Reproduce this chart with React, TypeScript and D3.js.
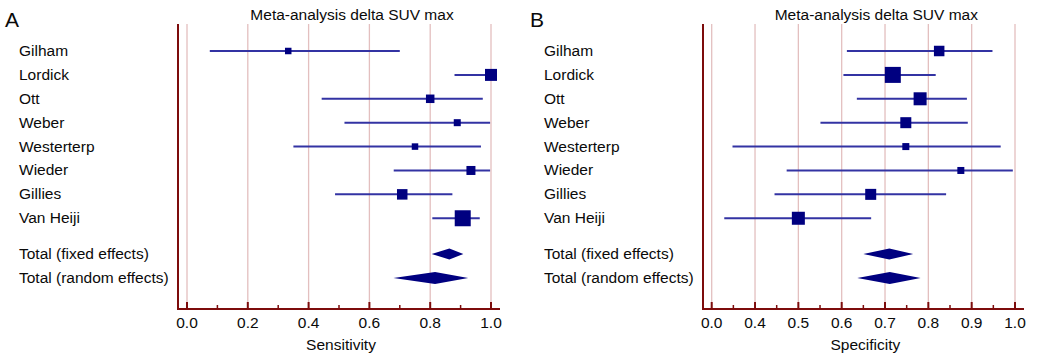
import { useEffect } from 'react';
import * as d3 from 'd3';

// studies (same order in both panels)
const studies = ['Gilham', 'Lordick', 'Ott', 'Weber', 'Westerterp', 'Wieder', 'Gillies', 'Van Heiji'];
const totals = ['Total (fixed effects)', 'Total (random effects)'];

// A: sensitivity
const sensEst = [0.333, 1.0, 0.8, 0.889, 0.75, 0.934, 0.708, 0.907];
const sensLo = [0.075, 0.88, 0.443, 0.518, 0.35, 0.68, 0.487, 0.807];
const sensHi = [0.7, 1.0, 0.973, 0.997, 0.967, 0.997, 0.873, 0.963];
const sensWeight = [6.5, 12, 8.5, 7, 6.5, 9, 10.5, 16];
const sensTotEst = [0.863, 0.816];
const sensTotLo = [0.805, 0.679];
const sensTotHi = [0.909, 0.925];

// B: specificity
const specEst = [0.825, 0.718, 0.781, 0.748, 0.748, 0.875, 0.667, 0.5];
const specLo = [0.612, 0.604, 0.635, 0.551, 0.348, 0.473, 0.445, 0.329];
const specHi = [0.948, 0.817, 0.889, 0.891, 0.967, 0.995, 0.841, 0.668];
const specWeight = [10.5, 16, 13, 11, 7, 7, 11, 13];
const specTotEst = [0.71, 0.711];
const specTotLo = [0.65, 0.636];
const specTotHi = [0.765, 0.782];

// tick labels
const sensTicks = [0, 0.2, 0.4, 0.6, 0.8, 1.0];
const sensTickLabels = ['0.0', '0.2', '0.4', '0.6', '0.8', '1.0'];
const sensMinor = [0.1, 0.3, 0.5, 0.7, 0.9];
const specTicks = [0.3, 0.4, 0.5, 0.6, 0.7, 0.8, 0.9, 1.0];
const specTickLabels = ['0.0', '0.4', '0.5', '0.6', '0.7', '0.8', '0.9', '1.0'];
const specMinor = [0.35, 0.45, 0.55, 0.65, 0.75, 0.85, 0.95];

const AXIS = '#7d0c0c';
const GRID = '#e3bfbf';
const CI = '#3333a3';
const MARK = '#000080';
const TEXT = '#0a0a0a';
const FONT = 'Liberation Sans, Arial, Helvetica, sans-serif';

const rowY = d3.scaleLinear().domain([0, 9.5]).range([51, 278]);

type PanelProps = {
    x0: number;
    letter: string;
    xLabel: string;
    domain: [number, number];
    range: [number, number];
    ticks: number[];
    tickLabels: string[];
    minor: number[];
    est: number[];
    lo: number[];
    hi: number[];
    weight: number[];
    totEst: number[];
    totLo: number[];
    totHi: number[];
};

const Panel = (p: PanelProps) => {
    const x = d3.scaleLinear().domain(p.domain).range(p.range);
    const axisX = p.x0 + 173;
    const top = 24;
    const bottom = 309;
    const axisEnd = p.range[1] + 9;
    const mid = (p.range[0] + p.range[1]) / 2;
    return (
        <g fontFamily={FONT}>
            <text x={p.x0} y={27} fontSize={21} fill={TEXT}>{p.letter}</text>
            <text x={mid + 13} y={20} fontSize={15.5} textAnchor="middle" fill={TEXT}>
                Meta-analysis delta SUV max
            </text>
            {p.ticks.map((t) => (
                <line key={'g' + t} x1={x(t)} x2={x(t)} y1={top} y2={bottom} stroke={GRID} strokeWidth={1.3} />
            ))}
            {studies.map((s, i) => (
                <text key={s} x={p.x0 + 14} y={rowY(i) + 5} fontSize={15.5} fill={TEXT}>{s}</text>
            ))}
            {totals.map((s, i) => (
                <text key={s} x={p.x0 + 14} y={rowY(8.5 + i) + 5} fontSize={15.5} fill={TEXT}>{s}</text>
            ))}
            {studies.map((s, i) => (
                <g key={'m' + s}>
                    <line x1={x(p.lo[i])} x2={x(p.hi[i])} y1={rowY(i)} y2={rowY(i)} stroke={CI} strokeWidth={2} />
                    <rect
                        x={x(p.est[i]) - p.weight[i] / 2}
                        y={rowY(i) - p.weight[i] / 2}
                        width={p.weight[i]}
                        height={p.weight[i]}
                        fill={MARK}
                    />
                </g>
            ))}
            {totals.map((s, i) => {
                const y = rowY(8.5 + i);
                const h = 5.5 + i * 0.5;
                const d = `M${x(p.totLo[i])},${y} L${x(p.totEst[i])},${y - h} L${x(p.totHi[i])},${y} L${x(p.totEst[i])},${y + h} Z`;
                return <path key={'d' + s} d={d} fill={MARK} />;
            })}
            <line x1={axisX} x2={axisX} y1={top} y2={bottom + 1} stroke={AXIS} strokeWidth={2} />
            <line x1={axisX - 1} x2={axisEnd} y1={bottom} y2={bottom} stroke={AXIS} strokeWidth={2} />
            {p.ticks.map((t, i) => (
                <g key={'t' + t}>
                    <line x1={x(t)} x2={x(t)} y1={bottom} y2={bottom - 7} stroke={AXIS} strokeWidth={2} />
                    <text x={x(t)} y={328} fontSize={15.5} textAnchor="middle" fill={TEXT}>{p.tickLabels[i]}</text>
                </g>
            ))}
            {p.minor.map((t) => (
                <line key={'n' + t} x1={x(t)} x2={x(t)} y1={bottom} y2={bottom - 4} stroke={AXIS} strokeWidth={1.5} />
            ))}
            <text x={mid + 2} y={350} fontSize={15.5} textAnchor="middle" fill={TEXT}>{p.xLabel}</text>
        </g>
    );
};

export default function App() {
    useEffect(() => {
        document.body.style.margin = '0';
    }, []);
    return (
        <svg width={1044} height={358} style={{ display: 'block', background: '#fff' }}>
            <Panel
                x0={5} letter="A" xLabel="Sensitivity"
                domain={[0, 1]} range={[187, 491]}
                ticks={sensTicks} tickLabels={sensTickLabels} minor={sensMinor}
                est={sensEst} lo={sensLo} hi={sensHi} weight={sensWeight}
                totEst={sensTotEst} totLo={sensTotLo} totHi={sensTotHi}
            />
            <Panel
                x0={530} letter="B" xLabel="Specificity"
                domain={[0.3, 1.0]} range={[711.7, 1015]}
                ticks={specTicks} tickLabels={specTickLabels} minor={specMinor}
                est={specEst} lo={specLo} hi={specHi} weight={specWeight}
                totEst={specTotEst} totLo={specTotLo} totHi={specTotHi}
            />
        </svg>
    );
}
